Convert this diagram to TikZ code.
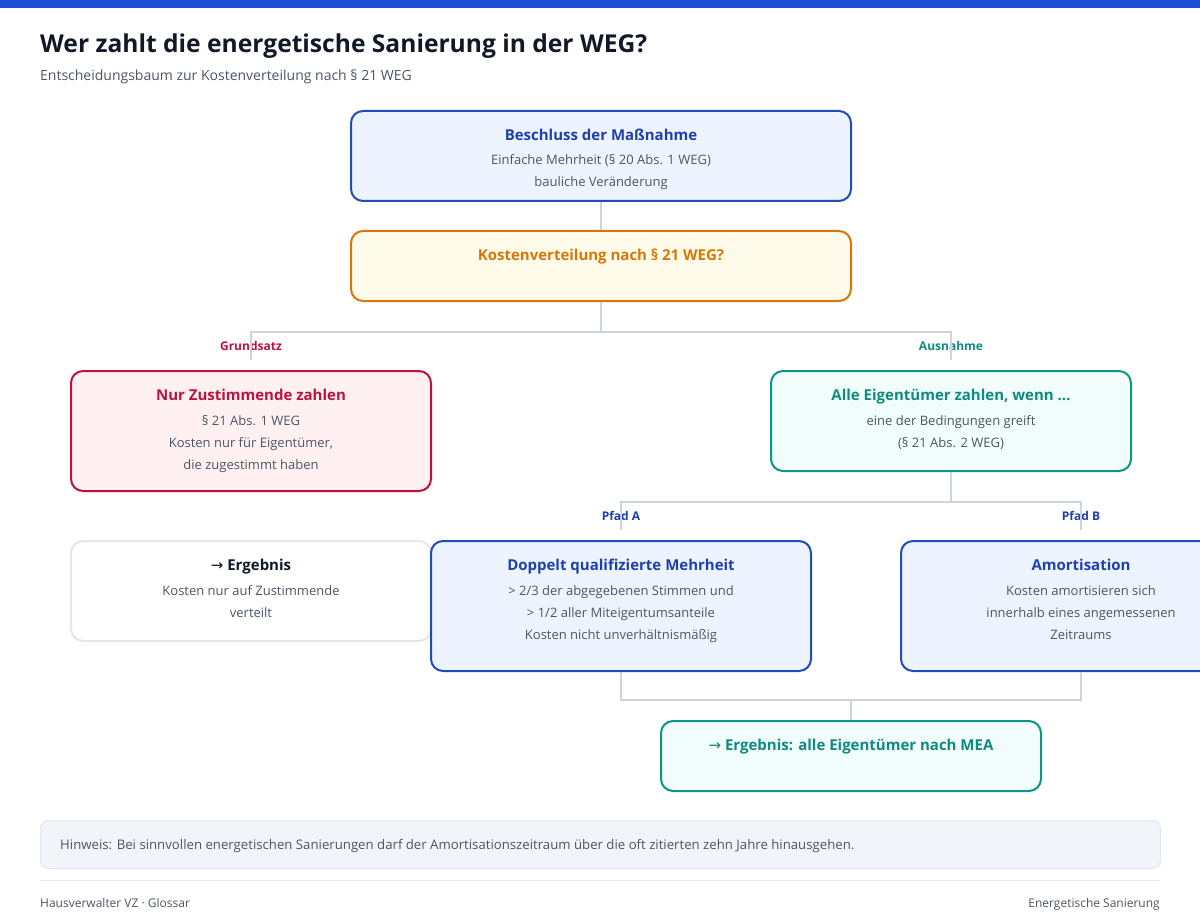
\documentclass[tikz,border=0pt]{standalone}
\usepackage{fontspec}
\setmainfont{Open Sans}
\newfontfamily\arrowfont{DejaVu Sans}
\usepackage{tikz}
\usetikzlibrary{positioning}

\definecolor{barblue}{HTML}{1D4ED8}
\definecolor{ink}{HTML}{111827}
\definecolor{muted}{HTML}{4B5563}
\definecolor{wire}{HTML}{CBD5E1}
\definecolor{blueline}{HTML}{1E4DB7}
\definecolor{bluefill}{HTML}{EEF4FF}
\definecolor{bluetext}{HTML}{1E40AF}
\definecolor{amberline}{HTML}{D97706}
\definecolor{amberfill}{HTML}{FFFBEB}
\definecolor{roseline}{HTML}{BE123C}
\definecolor{rosefill}{HTML}{FFF1F2}
\definecolor{tealline}{HTML}{0F9488}
\definecolor{tealfill}{HTML}{F0FDFA}
\definecolor{tealtext}{HTML}{0F8A7E}
\definecolor{greyline}{HTML}{E5E7EB}
\definecolor{notefill}{HTML}{F1F5F9}
\definecolor{noteline}{HTML}{E2E8F0}

\newcommand{\boxhead}[2]{{\fontsize{15}{22}\selectfont\bfseries\color{#1}#2}}

\begin{document}
\begin{tikzpicture}[x=1pt, y=-1pt,
    box/.style={draw, line width=2pt, rounded corners=12pt, anchor=north west, inner sep=0pt},
    boxtext/.style={anchor=north, align=center, inner sep=0pt, text=muted, font=\fontsize{13}{22}\selectfont},
    conn/.style={draw=wire, line width=2pt},
    branch/.style={anchor=base, inner sep=0pt, font=\fontsize{12}{14}\selectfont\bfseries},
    plain/.style={anchor=base west, inner sep=0pt, text=muted, font=\fontsize{13}{16}\selectfont},
]
    \useasboundingbox (0,0) rectangle (1200,920);
    \clip (0,0) rectangle (1200,920);
    \fill[barblue] (0,0) rectangle (1200,8);

    \node[anchor=base west, inner sep=0pt, text=ink, font=\fontsize{24.6}{28}\selectfont\bfseries] (titel) at (40,53) {Wer zahlt die energetische Sanierung in der WEG?};
    \node[plain, font=\fontsize{14}{16}\selectfont] (untertitel) at (40,81) {Entscheidungsbaum zur Kostenverteilung nach § 21 WEG};

    % Kaesten
    \node[box, draw=blueline, fill=bluefill, minimum width=500pt, minimum height=90pt] (beschluss) at (350,110) {};
    \node[box, draw=amberline, fill=amberfill, minimum width=500pt, minimum height=70pt] (kosten) at (350,230) {};
    \node[box, draw=roseline, fill=rosefill, minimum width=360pt, minimum height=120pt] (nur) at (70,370) {};
    \node[box, draw=tealline, fill=tealfill, minimum width=360pt, minimum height=100pt] (alle) at (770,370) {};
    \node[box, draw=greyline, fill=white, minimum width=360pt, minimum height=100pt] (ergebnis) at (70,540) {};
    \node[box, draw=blueline, fill=bluefill, minimum width=380pt, minimum height=130pt] (doppelt) at (430,540) {};
    \node[box, draw=blueline, fill=bluefill, minimum width=360pt, minimum height=130pt] (amort) at (900,540) {};
    \node[box, draw=tealline, fill=tealfill, minimum width=380pt, minimum height=70pt] (mea) at (660,720) {};

    \node[boxtext] (beschluss-txt) at ([yshift=-19pt]beschluss.north) {\boxhead{bluetext}{Beschluss der Maßnahme}\\[2pt] Einfache Mehrheit (§ 20 Abs. 1 WEG)\\ bauliche Veränderung};
    \node[boxtext] (kosten-txt) at ([yshift=-19pt]kosten.north) {\boxhead{amberline}{Kostenverteilung nach § 21 WEG?}};
    \node[boxtext] (nur-txt) at ([yshift=-19pt]nur.north) {\boxhead{roseline}{Nur Zustimmende zahlen}\\[3pt] § 21 Abs. 1 WEG\\ Kosten nur für Eigentümer,\\ die zugestimmt haben};
    \node[boxtext] (alle-txt) at ([yshift=-19pt]alle.north) {\boxhead{tealtext}{Alle Eigentümer zahlen, wenn \dots}\\[3pt] eine der Bedingungen greift\\ (§ 21 Abs. 2 WEG)};
    \node[boxtext] (ergebnis-txt) at ([yshift=-19pt]ergebnis.north) {\boxhead{ink}{{\arrowfont\mdseries →} Ergebnis}\\[3pt] Kosten nur auf Zustimmende\\ verteilt};
    \node[boxtext] (doppelt-txt) at ([yshift=-19pt]doppelt.north) {\boxhead{bluetext}{Doppelt qualifizierte Mehrheit}\\[3pt] > 2/3 der abgegebenen Stimmen und\\ > 1/2 aller Miteigentumsanteile\\ Kosten nicht unverhältnismäßig};
    \node[boxtext] (amort-txt) at ([yshift=-19pt]amort.north) {\boxhead{bluetext}{Amortisation}\\[3pt] Kosten amortisieren sich\\ innerhalb eines angemessenen\\ Zeitraums};
    \node[boxtext] (mea-txt) at ([yshift=-19pt]mea.north) {\boxhead{tealtext}{{\arrowfont\mdseries →} Ergebnis: alle Eigentümer nach MEA}};

    % Zweige
    \node[branch, text=roseline] (grundsatz) at ([yshift=20pt]nur.north) {Grundsatz};
    \node[branch, text=tealtext] (ausnahme) at ([yshift=20pt]alle.north) {Ausnahme};
    \node[branch, text=bluetext] (pfad-a) at ([yshift=20pt]doppelt.north) {Pfad A};
    \node[branch, text=bluetext] (pfad-b) at ([yshift=20pt]amort.north) {Pfad B};

    \draw[conn] (beschluss.south) -- (kosten.north);
    \draw[conn] (kosten.south) -- ++(0,30) -| ([yshift=10pt]nur.north);
    \draw[conn] (kosten.south) -- ++(0,30) -| ([yshift=10pt]alle.north);
    \draw[conn] (alle.south) -- ++(0,30) -| ([yshift=10pt]doppelt.north);
    \draw[conn] (alle.south) -- ++(0,30) -| ([yshift=10pt]amort.north);
    \draw[conn] (doppelt.south) |- ([yshift=20pt]mea.north) -- (mea.north);
    \draw[conn] (amort.south) |- ([yshift=20pt]mea.north);

    % Hinweis und Fusszeile
    \node[anchor=north west, fill=notefill, draw=noteline, line width=1pt, rounded corners=8pt, minimum width=1120pt, minimum height=48pt] (hinweis) at (40,820) {};
    \node[plain, font=\fontsize{13.2}{16}\selectfont] (hinweis-txt) at (60,849.5) {Hinweis: Bei sinnvollen energetischen Sanierungen darf der Amortisationszeitraum über die oft zitierten zehn Jahre hinausgehen.};
    \draw[greyline, line width=1pt] (40,880) -- (1160,880);
    \node[plain, font=\fontsize{12}{14}\selectfont] (fuss-links) at (40,907) {Hausverwalter VZ · Glossar};
    \node[plain, anchor=base east, font=\fontsize{12}{14}\selectfont] (fuss-rechts) at (1160,907) {Energetische Sanierung};
\end{tikzpicture}
\end{document}
